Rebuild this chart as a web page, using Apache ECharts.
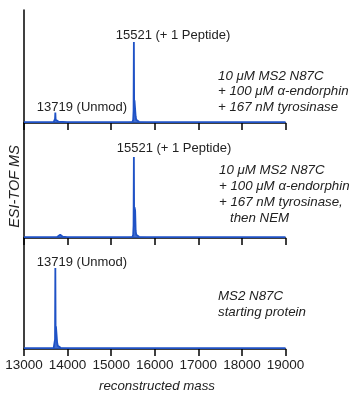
<!DOCTYPE html>
<html><head><meta charset="utf-8">
<script src="https://cdn.jsdelivr.net/npm/echarts@6/dist/echarts.min.js"></script>
<style>html,body{margin:0;padding:0;background:#fff}#c{width:364px;height:394px}</style>
</head><body><div id="c"></div>
<script>
// X axis
var xTicks = [13000, 14000, 15000, 16000, 17000, 18000, 19000];

// Panel 1: + alpha-endorphin + tyrosinase
var mass1 = [13000, 13500, 13680, 13700, 13712, 13719, 13726, 13740, 13760, 13790, 13830, 13990, 14005, 14020, 14300, 15000, 15380, 15395, 15410, 15490, 15505, 15514, 15521, 15528, 15535, 15550, 15562, 15575, 15600, 15640, 16000, 17000, 18000, 19000];
var int1  = [1, 1, 1.2, 2, 5, 13, 4, 3, 2.2, 1.8, 1.3, 1.2, 3, 1.2, 1, 1, 1.2, 2, 1.2, 1.5, 4, 15, 100, 12, 28, 26, 8, 4, 2.5, 1.5, 1, 1, 1, 1];

// Panel 2: + alpha-endorphin + tyrosinase, then NEM
var mass2 = [13000, 13600, 13760, 13800, 13830, 13845, 13860, 13890, 13990, 14005, 14020, 14300, 15000, 15380, 15395, 15410, 15490, 15505, 15514, 15521, 15528, 15535, 15550, 15562, 15575, 15600, 15640, 16000, 17000, 18000, 19000];
var int2  = [1, 1, 1.3, 2.5, 4, 6, 3.5, 1.6, 1.2, 3, 1.2, 1, 1, 1.2, 2.5, 1.2, 1.5, 4, 16, 100, 14, 38, 34, 9, 4, 2.5, 1.5, 1, 1, 1, 1];

// Panel 3: MS2 N87C starting protein
var mass3 = [13000, 13540, 13555, 13570, 13680, 13700, 13712, 13719, 13726, 13733, 13748, 13760, 13775, 13800, 13840, 14010, 14025, 14040, 14300, 15000, 15505, 15520, 15535, 16000, 17000, 18000, 19000];
var int3  = [1, 1, 2.5, 1, 1.2, 2, 12, 100, 12, 28, 26, 8, 4, 2.5, 1.5, 1.2, 2.5, 1.2, 1, 1, 1, 2, 1, 1, 1, 1, 1];

var pairs = function(m, v){ return m.map(function(x,i){ return [x, v[i]]; }); };

var blue = '#1f52c6';
var txt = '#222';
var font = 'Liberation Sans, Arial, sans-serif';

var grids = [
  {left:24, width:261.5, top:10, height:113},
  {left:24, width:261.5, top:123, height:115},
  {left:24, width:261.5, top:238, height:111}
];
var yMax = [139.5, 142, 137];

var xAxes = grids.map(function(g, i){
  return {
    type:'value', gridIndex:i, min:xTicks[0], max:xTicks[xTicks.length-1], interval:xTicks[1]-xTicks[0],
    axisLine:{show:true, lineStyle:{color:'#000', width:1.5}},
    axisTick:{show:true, inside:false, length:7, lineStyle:{color:'#000', width:1.5}},
    axisLabel:{show:i===2, margin:9, color:txt, fontSize:13.5, fontFamily:font,
      formatter:function(v){ return String(v); }},
    splitLine:{show:false}
  };
});
var yAxes = grids.map(function(g, i){
  return {
    type:'value', gridIndex:i, min:0, max:yMax[i],
    axisLine:{show:true, lineStyle:{color:'#000', width:1.5}},
    axisTick:{show:false}, axisLabel:{show:false}, splitLine:{show:false}
  };
});
var datasets = [pairs(mass1,int1), pairs(mass2,int2), pairs(mass3,int3)];
var series = datasets.map(function(d, i){
  return {
    type:'line', xAxisIndex:i, yAxisIndex:i, data:d, symbol:'none', smooth:false,
    lineStyle:{color:blue, width:1.8}, areaStyle:{color:blue, opacity:0.85},
    animation:false
  };
});

function t(x, y, s, opt){
  opt = opt || {};
  return {type:'text', x:x, y:y, rotation: opt.rot || 0,
    style:{text:s, fill:txt, font:(opt.italic?'italic ':'') + (opt.size||13) + 'px ' + font,
      textAlign: opt.align || 'left', textVerticalAlign:'middle'}};
}

var graphics = [
  t(173, 35, '15521 (+ 1 Peptide)', {align:'center'}),
  t(82, 107, '13719 (Unmod)', {align:'center'}),
  t(218, 76, '10 μM MS2 N87C', {italic:true, size:13.3}),
  t(218, 91.5, '+ 100 μM α-endorphin', {italic:true, size:13.3}),
  t(218, 107, '+ 167 nM tyrosinase', {italic:true, size:13.3}),
  t(174, 148, '15521 (+ 1 Peptide)', {align:'center'}),
  t(219, 170, '10 μM MS2 N87C', {italic:true, size:13.3}),
  t(219, 186, '+ 100 μM α-endorphin', {italic:true, size:13.3}),
  t(219, 202, '+ 167 nM tyrosinase,', {italic:true, size:13.3}),
  t(230, 218, 'then NEM', {italic:true, size:13.3}),
  t(82, 262, '13719 (Unmod)', {align:'center'}),
  t(218, 296, 'MS2 N87C', {italic:true, size:13.3}),
  t(218, 312, 'starting protein', {italic:true, size:13.3}),
  t(157, 386, 'reconstructed mass', {italic:true, align:'center', size:13.3}),
  t(15, 186.5, 'ESI-TOF MS', {italic:true, align:'center', rot:Math.PI/2, size:14.5})
];

var chart = echarts.init(document.getElementById('c'), null, {renderer:'canvas'});
chart.setOption({
  animation:false,
  backgroundColor:'#fff',
  grid:grids, xAxis:xAxes, yAxis:yAxes, series:series,
  graphic:graphics
});
</script></body></html>
